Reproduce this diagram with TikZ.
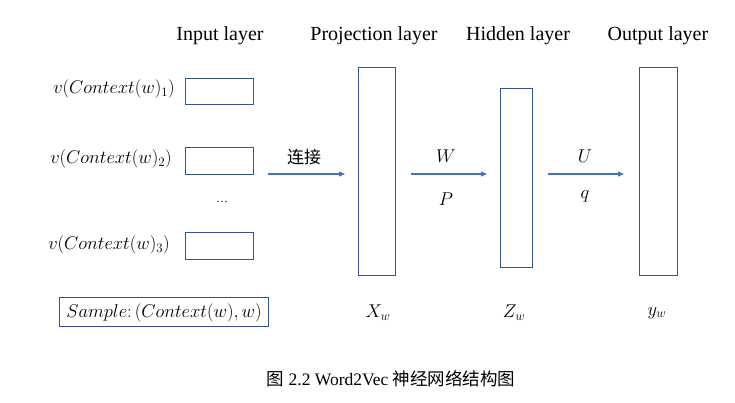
\documentclass[tikz,border=0pt]{standalone}
\usepackage{fix-cm}
\usepackage{fontspec}
\setmainfont{Liberation Serif}
\newfontfamily\cjk{Noto Sans CJK SC}
\usetikzlibrary{arrows.meta}
\definecolor{boxblue}{HTML}{2F5597}
\definecolor{arrblue}{HTML}{4472C4}
\begin{document}
\begin{tikzpicture}[x=1pt,y=-1pt,
  lay/.style={draw=boxblue,line width=1.4pt,inner sep=0pt,anchor=north west},
  conn/.style={draw=arrblue,line width=1.3pt,-{Triangle[length=6pt,width=5pt]}},
  head/.style={font=\fontsize{20}{24}\selectfont},
  mlab/.style={font=\fontsize{18.5}{22}\selectfont}]
\useasboundingbox (0,0) rectangle (735,402);
% headers
\node[head] (h1) at (220,36) {Input layer};
\node[head] (h2) at (374,36) {Projection layer};
\node[head] (h3) at (518,36) {Hidden layer};
\node[head] (h4) at (658,36) {Output layer};
% input boxes
\node[lay,minimum width=68pt,minimum height=26pt] (i1) at (185,78) {};
\node[lay,minimum width=68pt,minimum height=27pt] (i2) at (185,147) {};
\node[lay,minimum width=68pt,minimum height=27pt] (i3) at (185,232) {};
\node[mlab] (l1) at (114,89) {$v(Context(w)_1)$};
\node[mlab] (l2) at (111,159) {$v(Context(w)_2)$};
\node[mlab] (l3) at (109,245) {$v(Context(w)_3)$};
\node[font=\fontsize{12}{14}\selectfont] (dots) at (222,202) {\dots};
\node[lay,minimum width=209pt,minimum height=29pt] (smp) at (59,297) {};
\node[mlab] (smpt) at (164,313) {$Sample\colon(Context(w),w)$};
% layers
\node[lay,minimum width=37pt,minimum height=208pt] (proj) at (358,67) {};
\node[lay,minimum width=32pt,minimum height=179pt] (hid) at (500,88) {};
\node[lay,minimum width=38pt,minimum height=208pt] (out) at (639,67) {};
% arrows
\coordinate (a1s) at (268,174);
\draw[conn] (a1s) -- ([xshift=-13pt]proj.west |- a1s);
\draw[conn] ([xshift=15pt]proj.east |- a1s) -- ([xshift=-13pt]hid.west |- a1s);
\draw[conn] ([xshift=15pt]hid.east |- a1s) -- ([xshift=-15pt]out.west |- a1s);
% arrow labels
\node[font=\cjk\fontsize{17}{20}\selectfont] (lj) at (304,157) {连接};
\node[mlab] (W) at (446,156) {$W$};
\node[mlab] (P) at (446,199) {$P$};
\node[mlab] (U) at (585,156) {$U$};
\node[mlab] (q) at (585,196) {$q$};
% vector names
\node[mlab] (xw) at (378,313) {$X_w$};
\node[mlab] (zw) at (514,313) {$Z_w$};
\node[mlab] (yw) at (657,313) {$y_w$};
% caption
\node[font=\fontsize{17.5}{20}\selectfont] (cap) at (391,379) {{\cjk 图} 2.2 Word2Vec {\cjk 神经网络结构图}};
\end{tikzpicture}
\end{document}
